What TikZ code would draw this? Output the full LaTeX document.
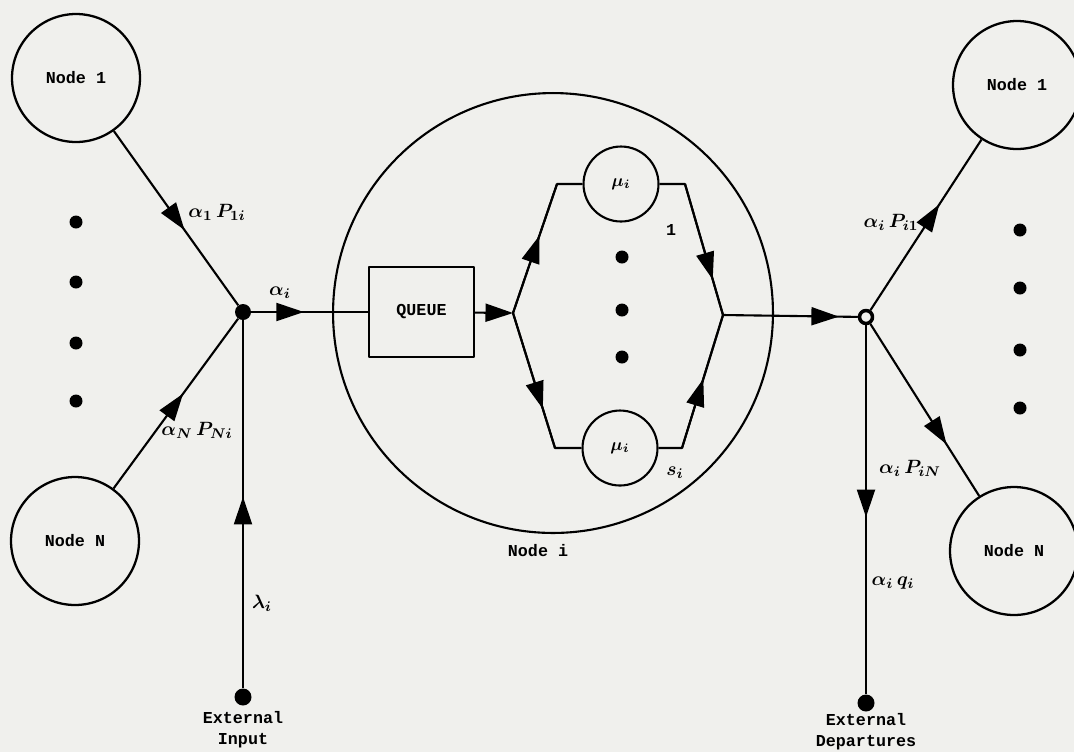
\documentclass[tikz,border=0pt]{standalone}
\usepackage{fontspec}
\setmonofont{Liberation Mono}
\usetikzlibrary{arrows.meta,decorations.markings}
\definecolor{paper}{RGB}{240,240,237}
\tikzset{
  every node/.style={font=\ttfamily\bfseries\fontsize{9.5}{12}\selectfont},
  flowlabel/.style={font=\fontsize{11}{13}\selectfont\boldmath},
  netnode/.style={circle,draw,line width=1.3pt,minimum size=2.56cm,inner sep=0pt},
  server/.style={circle,draw,line width=1.2pt,minimum size=1.5cm,inner sep=0pt,font=\fontsize{10}{12}\selectfont\boldmath},
  queuebox/.style={draw,line width=1.2pt,minimum width=2.1cm,minimum height=1.8cm},
  junct/.style={circle,fill,inner sep=0pt,minimum size=0.32cm},
  ringjunct/.style={circle,draw,fill=paper,line width=2pt,inner sep=0pt,minimum size=0.26cm},
  portdot/.style={circle,fill,inner sep=0pt,minimum size=0.34cm},
  flow/.style={draw,line width=1.2pt},
  midarrow/.style={postaction={decorate},decoration={markings,mark=at position #1 with {\arrow{>}}}},
}
\begin{document}
\begin{tikzpicture}[x=0.02cm,y=-0.02cm,>={Triangle[length=0.55cm,width=0.36cm]},line join=bevel]
\fill[paper] (0,0) rectangle (1074,752);
\useasboundingbox (0,0) rectangle (1074,752);
%%
\node (node_in1) at (76,78) [netnode] {Node 1};
  \node (node_inN) at (75,541) [netnode] {Node N};
  \node (node_out1) at (1017,85) [netnode] {Node 1};
  \node (node_outN) at (1014,551) [netnode] {Node N};
  \node (node_i) at (553,313) [circle,draw,line width=1.2pt,minimum size=8.8cm] {};
  \node (lbl_node_i) at (538,551) {Node i};
  \node (junct_in) at (243,312) [junct] {};
  \node (junct_out) at (866,317) [ringjunct] {};
  \node (ext_in) at (243,697) [portdot] {};
  \node (ext_out) at (866,703) [portdot] {};
  \node (queue) at (421.5,312) [queuebox] {QUEUE};
  \node (server_1) at (621,184) [server] {$\mu_i$};
  \node (server_s) at (620,448) [server] {$\mu_i$};
  \coordinate (split) at (513,313);
  \coordinate (merge) at (723,315);
  \coordinate (corner_ul) at (557,184);
  \coordinate (corner_ur) at (685,184);
  \coordinate (corner_ll) at (555,448);
  \coordinate (corner_lr) at (682,448);
%
\foreach \y in {222,282,343,401} \fill (76,\y) circle (0.13cm);
\foreach \y in {230,288,350,408} \fill (1020,\y) circle (0.13cm);
\foreach \y in {257,310,357} \fill (622,\y) circle (0.13cm);
%
\draw [flow,midarrow=0.57] (node_in1) -- (junct_in);
  \draw [flow,midarrow=0.56] (node_inN) -- (junct_in);
  \draw [flow,midarrow=0.52] (ext_in) -- (junct_in);
  \draw [flow,midarrow=0.45] (junct_in) -- (queue);
  \draw [flow,->] (queue) -- (split);
  \draw [flow] (split) -- (corner_ul) -- (server_1);
  \draw [flow] (server_1) -- (corner_ur) -- (merge);
  \draw [flow] (split) -- (corner_ll) -- (server_s);
  \draw [flow] (server_s) -- (corner_lr) -- (merge);
  \draw [flow,midarrow=0.6] (split) -- (corner_ul);
  \draw [flow,midarrow=0.73] (corner_ur) -- (merge);
  \draw [flow,midarrow=0.71] (split) -- (corner_ll);
  \draw [flow,midarrow=0.52] (corner_lr) -- (merge);
  \draw [flow,midarrow=0.86] (merge) -- (junct_out);
  \draw [flow,midarrow=0.62] (junct_out) -- (node_out1);
  \draw [flow,midarrow=0.70] (junct_out) -- (node_outN);
  \draw [flow,midarrow=0.52] (junct_out) -- (ext_out);
%
\node (lbl_in1) at (217,212) [flowlabel] {$\alpha_1\,P_{1i}$};
  \node (lbl_inN) at (197,430) [flowlabel] {$\alpha_N\,P_{Ni}$};
  \node (lbl_alpha) at (280,293) [flowlabel] {$\alpha_i$};
  \node (lbl_lambda) at (262,603) [flowlabel] {$\lambda_i$};
  \node (lbl_one) at (671,230) {1};
  \node (lbl_s) at (675,473) [flowlabel] {$s_i$};
  \node (lbl_out1) at (891,222) [flowlabel] {$\alpha_i\,P_{i1}$};
  \node (lbl_outN) at (910,468) [flowlabel] {$\alpha_i\,P_{iN}$};
  \node (lbl_q) at (893,583) [flowlabel] {$\alpha_i\,q_i$};
  \node (lbl_ext_in) at (243,730) [align=center] {External\\Input};
  \node (lbl_ext_out) at (866,732) [align=center] {External\\Departures};
%
\end{tikzpicture}
\end{document}
